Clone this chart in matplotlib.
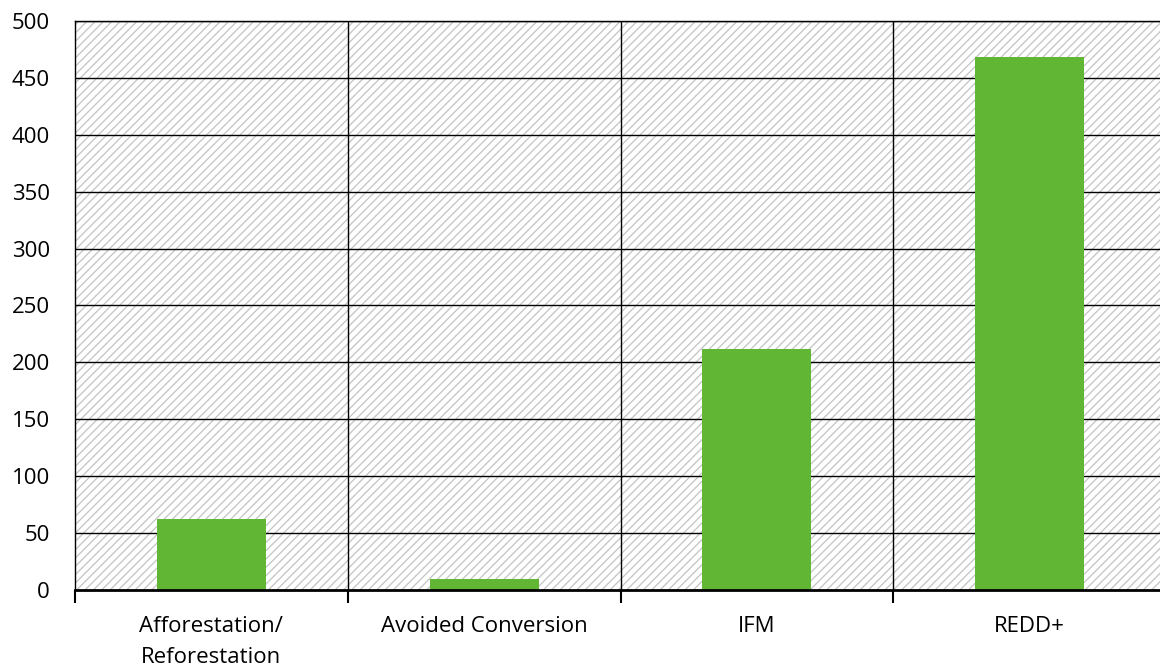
import matplotlib
matplotlib.use("Agg")
import matplotlib.pyplot as plt
from matplotlib.patches import Rectangle

categories = ["Afforestation/\nReforestation", "Avoided Conversion", "IFM", "REDD+"]
values = [62, 10, 212, 468]
y_ticks = [0, 50, 100, 150, 200, 250, 300, 350, 400, 450, 500]

bar_color = "#61b733"

plt.rcParams["font.family"] = ["Open Sans", "DejaVu Sans"]
plt.rcParams["hatch.linewidth"] = 0.9

fig = plt.figure(figsize=(11.6, 6.69), dpi=100)
ax = fig.add_axes([0.0647, 0.1181, 0.9405, 0.9686 - 0.1181])

# hatched plot background
bg = Rectangle((0, 0), 1, 1, transform=ax.transAxes, facecolor="white",
               edgecolor="#c4c4c4", hatch="////", lw=0, zorder=0)
ax.add_patch(bg)

x = list(range(len(categories)))
ax.bar(x, values, width=0.4, color=bar_color, zorder=3)

ax.set_xlim(-0.5, len(categories) - 0.5)
ax.set_ylim(0, 500)

ax.set_yticks(y_ticks)
ax.set_yticklabels([str(v) for v in y_ticks])
ax.tick_params(axis="y", length=0, pad=18, labelsize=16)

ax.set_xticks(x)
ax.set_xticklabels(categories, linespacing=1.6)
ax.tick_params(axis="x", which="major", length=0, pad=19, labelsize=16)

boundaries = [i - 0.5 for i in range(len(categories) + 1)]
ax.set_xticks(boundaries, minor=True)
ax.tick_params(axis="x", which="minor", length=9, width=1.5, direction="out", color="black")

# horizontal and vertical grid lines
for v in y_ticks[1:]:
    ax.axhline(v, color="black", lw=1.0, zorder=2)
for b in boundaries[1:-1]:
    ax.axvline(b, color="black", lw=1.0, zorder=2)

for side in ["top", "left", "right"]:
    ax.spines[side].set_linewidth(1.0)
    ax.spines[side].set_color("black")
ax.spines["bottom"].set_linewidth(2.0)
ax.spines["bottom"].set_zorder(4)

fig.savefig("out.png", dpi=100)
